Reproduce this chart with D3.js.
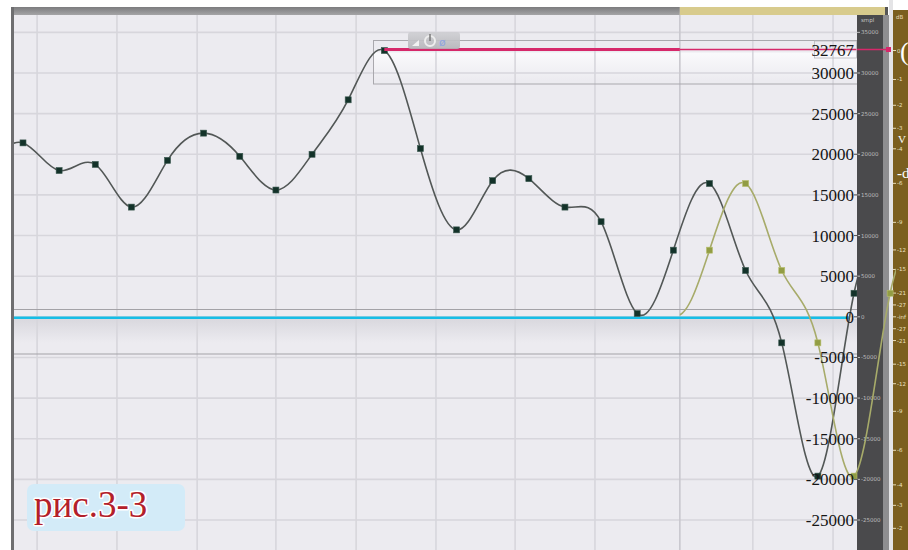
<!DOCTYPE html>
<html>
<head>
<meta charset="utf-8">
<script src="https://cdn.jsdelivr.net/npm/d3@7"></script>
<style>
  html, body { margin: 0; padding: 0; background: #fff; }
  svg { display: block; }
</style>
</head>
<body>
<script>
// 16-bit sample values, one per sample index starting at -1
const firstIndex = -1;
const mainSamples = [18500, 21400, 18000, 18750, 13500, 19250, 22600, 19750, 15600, 20000,
  26700, 32767, 20700, 10700, 16750, 17000, 13500, 11700, 400, 8200,
  16400, 5700, -3200, -19600, 2900, 9000];
// the same tail, delayed by one sample (starts at index 16)
const delayedFirstIndex = 16;
const delayedSamples = [13500, 11700, 400, 8200, 16400, 5700, -3200, -19600, 2900, 9000];
const peakValue = 32767;
const amplitudeLabels = [30000, 25000, 20000, 15000, 10000, 5000, 0, -5000, -10000, -15000, -20000, -25000];
const gridValues = [35000, 30000, 25000, 20000, 15000, 10000, 5000, 0, -5000, -10000, -15000, -20000, -25000, -30000];
const rulerLabels = [35000, 30000, 25000, 20000, 15000, 10000, 5000, 0, -5000, -10000, -15000, -20000, -25000];
const dbLabels = [0, -1, -2, -3, -4, -6, -9, -12, -15, -21, -27];
const timeGrid = [0.39, 2.6, 4.82, 7.0, 9.22, 11.43, 13.62, 15.83, 18.18, 20.2, 22.42];
const seamTime = 18.18;
const captionText = "рис.3-3";

const W = 908, H = 550;
const plot = { left: 14, right: 857, top: 15, bottom: 550 };

const x = d3.scaleLinear().domain([0, 23]).range([23, 854]);
const y = d3.scaleLinear().domain([-25000, 30000]).range([520, 73]);

const svg = d3.select("body").append("svg").attr("width", W).attr("height", H);
const defs = svg.append("defs");

defs.append("clipPath").attr("id", "plotClip").append("rect")
  .attr("x", plot.left).attr("y", plot.top)
  .attr("width", plot.right - plot.left).attr("height", plot.bottom - plot.top);
defs.append("clipPath").attr("id", "delayClip").append("rect")
  .attr("x", x(seamTime)).attr("y", plot.top)
  .attr("width", 896 - x(seamTime)).attr("height", plot.bottom - plot.top);

const bandGrad = defs.append("linearGradient").attr("id", "bandShade").attr("x1", 0).attr("x2", 0).attr("y1", 0).attr("y2", 1);
bandGrad.append("stop").attr("offset", 0).attr("stop-color", "#d9d8de").attr("stop-opacity", 1);
bandGrad.append("stop").attr("offset", 1).attr("stop-color", "#d9d8de").attr("stop-opacity", 0);
const peakGrad = defs.append("linearGradient").attr("id", "peakShade").attr("x1", 0).attr("x2", 0).attr("y1", 0).attr("y2", 1);
peakGrad.append("stop").attr("offset", 0).attr("stop-color", "#fafafc").attr("stop-opacity", 1);
peakGrad.append("stop").attr("offset", 1).attr("stop-color", "#fafafc").attr("stop-opacity", 0);
const barGrad = defs.append("linearGradient").attr("id", "barShade").attr("x1", 0).attr("x2", 0).attr("y1", 0).attr("y2", 1);
barGrad.append("stop").attr("offset", 0).attr("stop-color", "#7c7c7e");
barGrad.append("stop").attr("offset", 1).attr("stop-color", "#a4a4a6");
const widgetGrad = defs.append("linearGradient").attr("id", "widgetShade").attr("x1", 0).attr("x2", 0).attr("y1", 0).attr("y2", 1);
widgetGrad.append("stop").attr("offset", 0).attr("stop-color", "#cfcfd3");
widgetGrad.append("stop").attr("offset", 1).attr("stop-color", "#b4b4b8");

// plot background
svg.append("rect").attr("x", plot.left).attr("y", plot.top)
  .attr("width", plot.right - plot.left).attr("height", plot.bottom - plot.top)
  .attr("fill", "#ecebf0");

// shading under the zero line and the peak level
svg.append("rect").attr("x", plot.left).attr("y", y(0) + 2)
  .attr("width", plot.right - plot.left).attr("height", 24).attr("fill", "url(#bandShade)");
svg.append("rect").attr("x", 374).attr("y", y(peakValue) + 2)
  .attr("width", plot.right - 374).attr("height", 28).attr("fill", "url(#peakShade)");

// grid
const grid = svg.append("g").attr("clip-path", "url(#plotClip)");
grid.selectAll("line.h").data(gridValues).join("line")
  .attr("x1", plot.left).attr("x2", plot.right)
  .attr("y1", d => y(d)).attr("y2", d => y(d))
  .attr("stroke", "#d7d6dc").attr("stroke-width", 1.6);
grid.selectAll("line.v").data(timeGrid).join("line")
  .attr("x1", d => x(d)).attr("x2", d => x(d))
  .attr("y1", plot.top).attr("y2", plot.bottom)
  .attr("stroke", d => d === seamTime ? "#c9c8ce" : "#d7d6dc").attr("stroke-width", 1.6);

// selection boxes
svg.append("rect").attr("x", 373.5).attr("y", 40.5).attr("width", 512).attr("height", 43.5)
  .attr("fill", "none").attr("stroke", "#a9a8ad").attr("stroke-width", 1);
svg.append("rect").attr("x", 13.5).attr("y", 309.5).attr("width", 872).attr("height", 44.5)
  .attr("fill", "none").attr("stroke", "#a3a2a7").attr("stroke-width", 1);

// zero line
svg.append("line").attr("x1", plot.left).attr("x2", 850)
  .attr("y1", y(0) + 1).attr("y2", y(0) + 1)
  .attr("stroke", "#16bde6").attr("stroke-width", 2.6);

// waveforms
const curve = d3.line().curve(d3.curveNatural).x(d => x(d.i)).y(d => y(d.v));
const mainData = mainSamples.map((v, k) => ({ i: firstIndex + k, v }));
const delayedData = delayedSamples.map((v, k) => ({ i: delayedFirstIndex + k, v }));

const waveMain = svg.append("g").attr("clip-path", "url(#plotClip)");
waveMain.append("path").datum(mainData).attr("d", curve)
  .attr("fill", "none").attr("stroke", "#525756").attr("stroke-width", 1.6);
waveMain.selectAll("rect").data(mainData.filter(d => x(d.i) > plot.left && x(d.i) < plot.right)).join("rect")
  .attr("x", d => x(d.i) - 3).attr("y", d => y(d.v) - 3)
  .attr("width", 6).attr("height", 6)
  .attr("fill", "#133229").attr("stroke", "#3d5a52").attr("stroke-width", 0.6);

// ruler strip on the right
svg.append("rect").attr("x", 857).attr("y", plot.top).attr("width", 26).attr("height", H - plot.top).attr("fill", "#4a4a4c");
svg.append("rect").attr("x", 883).attr("y", plot.top).attr("width", 6).attr("height", H - plot.top).attr("fill", "#8e8e90");
svg.append("rect").attr("x", 889).attr("y", 0).attr("width", 4).attr("height", H).attr("fill", "#e4e4e6");
svg.append("rect").attr("x", 893).attr("y", 10).attr("width", 15).attr("height", H - 10).attr("fill", "#7b5f1f");

const ruler = svg.append("g");
ruler.append("text").attr("x", 861).attr("y", 22).text("smpl")
  .attr("font-family", "DejaVu Sans").attr("font-size", 5.5).attr("fill", "#c4c4c4");
ruler.selectAll("g.rt").data(rulerLabels).join("g").each(function (d) {
  const g = d3.select(this);
  g.append("line").attr("x1", 857).attr("x2", 860).attr("y1", y(d)).attr("y2", y(d)).attr("stroke", "#bdbdbd");
  g.append("text").attr("x", 861).attr("y", y(d) + 2).text(d)
    .attr("font-family", "DejaVu Sans").attr("font-size", 5.5).attr("fill", "#bdbdbd");
});

// dB scale on the brown panel
const dbToAmp = db => peakValue * Math.pow(10, db / 20);
const dbPos = [];
dbLabels.forEach(db => dbPos.push({ t: String(db), yy: y(dbToAmp(db)) }));
dbPos.push({ t: "-inf", yy: y(0) });
dbLabels.slice().reverse().forEach(db => dbPos.push({ t: String(db), yy: y(-dbToAmp(db)) }));
const dbg = svg.append("g");
dbg.append("text").attr("x", 896).attr("y", 19).text("dB")
  .attr("font-family", "DejaVu Sans").attr("font-size", 5.5).attr("fill", "#e8dcb8");
dbg.selectAll("g.db").data(dbPos.filter(d => d.yy < H)).join("g").each(function (d) {
  const g = d3.select(this);
  g.append("line").attr("x1", 893).attr("x2", 896).attr("y1", d.yy).attr("y2", d.yy).attr("stroke", "#e8dcb8");
  g.append("text").attr("x", 897).attr("y", d.yy + 2).text(d.t)
    .attr("font-family", "DejaVu Sans").attr("font-size", 5.5).attr("fill", "#ece2c4");
});
// readout text on the brown panel
const panelText = svg.append("g").attr("font-family", "Liberation Serif").attr("fill", "#ffffff");
panelText.append("text").attr("x", 900).attr("y", y(peakValue) + 9).attr("font-size", 26).text("(");
panelText.append("text").attr("x", 898).attr("y", 143).attr("font-size", 11).text("V");
panelText.append("text").attr("x", 897).attr("y", 178).attr("font-size", 15).text("-d");

// delayed copy, drawn over the ruler
const waveDelay = svg.append("g").attr("clip-path", "url(#delayClip)");
waveDelay.append("path").datum(delayedData).attr("d", curve)
  .attr("fill", "none").attr("stroke", "#a7ab6a").attr("stroke-width", 1.6);
waveDelay.selectAll("rect").data(delayedData.filter(d => x(d.i) > x(seamTime) && x(d.i) < 896)).join("rect")
  .attr("x", d => x(d.i) - 3).attr("y", d => y(d.v) - 3)
  .attr("width", 6).attr("height", 6)
  .attr("fill", "#929d44").attr("stroke", "#b7bf6c").attr("stroke-width", 0.6);

// peak level marker
svg.append("line").attr("x1", x(10)).attr("x2", x(seamTime))
  .attr("y1", y(peakValue) - 1).attr("y2", y(peakValue) - 1)
  .attr("stroke", "#d6286a").attr("stroke-width", 3);
svg.append("line").attr("x1", x(seamTime)).attr("x2", 889)
  .attr("y1", y(peakValue) - 1).attr("y2", y(peakValue) - 1)
  .attr("stroke", "#d6286a").attr("stroke-width", 1.3);
svg.append("rect").attr("x", 886).attr("y", y(peakValue) - 3.5).attr("width", 5).attr("height", 5).attr("fill", "#d6286a");

// amplitude labels
const labels = svg.append("g").attr("font-family", "Liberation Serif").attr("font-size", 17).attr("fill", "#151515").attr("text-anchor", "end");
labels.selectAll("text").data(amplitudeLabels).join("text")
  .attr("x", 854).attr("y", d => y(d) + 6).text(d => d);
labels.append("rect").attr("x", 814.5).attr("y", y(peakValue) - 9.5).attr("width", 42).attr("height", 17)
  .attr("fill", "none").attr("stroke", "#b9b8bd").attr("stroke-width", 0.8);
labels.append("text").attr("x", 854).attr("y", y(peakValue) + 5).text(peakValue);
svg.selectAll("line.tk").data(amplitudeLabels).join("line")
  .attr("x1", 854).attr("x2", 858).attr("y1", d => y(d)).attr("y2", d => y(d))
  .attr("stroke", "#555").attr("stroke-width", 1);

// frame: top bar and left border
svg.append("rect").attr("x", 11).attr("y", 7).attr("width", x(seamTime) - 11).attr("height", 8).attr("fill", "url(#barShade)");
svg.append("rect").attr("x", x(seamTime)).attr("y", 7).attr("width", 888 - x(seamTime)).attr("height", 8).attr("fill", "#d8cb8d");
svg.append("rect").attr("x", 11).attr("y", 7).attr("width", 3).attr("height", H - 7).attr("fill", "#6e6e70");
svg.append("rect").attr("x", 885).attr("y", 7).attr("width", 3).attr("height", 8).attr("fill", "#555");

// small toolbar above the peak
const tb = svg.append("g");
tb.append("rect").attr("x", 408).attr("y", 32).attr("width", 52).attr("height", 17).attr("rx", 3)
  .attr("fill", "url(#widgetShade)").attr("opacity", 0.9);
tb.append("path").attr("d", "M412,46 L419,46 L419,40 Z").attr("fill", "#f2f2f2");
tb.append("circle").attr("cx", 430).attr("cy", 41).attr("r", 5).attr("fill", "none").attr("stroke", "#eeeeee").attr("stroke-width", 2);
tb.append("line").attr("x1", 430).attr("x2", 430).attr("y1", 34).attr("y2", 41).attr("stroke", "#777").attr("stroke-width", 1.5);
tb.append("text").attr("x", 439).attr("y", 46).text("ø")
  .attr("font-family", "DejaVu Sans").attr("font-size", 11).attr("fill", "#8fa4e0");

// caption
svg.append("rect").attr("x", 27).attr("y", 484).attr("width", 158).attr("height", 47).attr("rx", 7)
  .attr("fill", "#d3ebf8");
svg.append("text").attr("x", 34).attr("y", 517).text(captionText)
  .attr("font-family", "Liberation Serif").attr("font-size", 37)
  .attr("fill", "#b3202a").attr("stroke", "#ffffff").attr("stroke-width", 3)
  .attr("paint-order", "stroke").attr("stroke-linejoin", "round");
</script>
</body>
</html>
